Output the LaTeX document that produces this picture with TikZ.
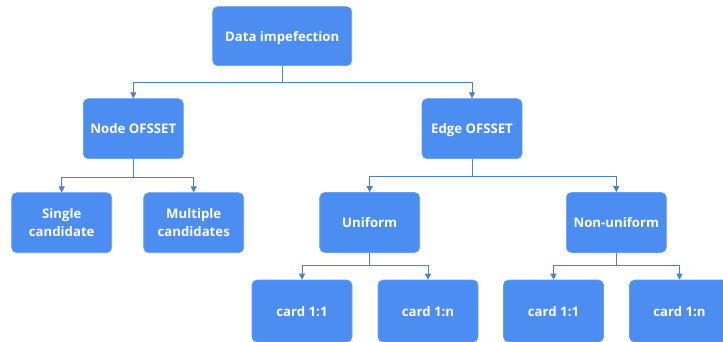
\documentclass[tikz,border=0pt]{standalone}
\usepackage{fontspec}
\setmainfont{Open Sans}
\usetikzlibrary{arrows.meta}
\definecolor{boxblue}{RGB}{75,141,241}
\definecolor{lineblue}{RGB}{76,128,200}
\begin{document}
\begin{tikzpicture}[x=1pt,y=-1pt,
  box/.style={draw=boxblue!85!white,line width=0.6pt,fill=boxblue,rounded corners=5pt,
    minimum width=100pt,minimum height=60pt,inner sep=0pt,text depth=0pt,
    text=white,font=\bfseries\fontsize{13.2}{18}\selectfont,align=center},
  conn/.style={draw=lineblue,line width=0.9pt,-{Triangle[length=6pt,width=6pt]}}]
\useasboundingbox (0,0) rectangle (723,342);
\clip (0,0) rectangle (723,342);
\fill[white] (0,0) rectangle (723,342);
\node[box,minimum width=139pt,minimum height=59pt] (root) at (282.2,36.2) {Data impefection};
\node[box] (nodeo) at (133.3,128.7) {Node OFSSET};
\node[box] (edgeo) at (472,128.7) {Edge OFSSET};
\node[box] (single) at (61.7,222.7) {Single\\candidate};
\node[box] (multi) at (193.7,222.7) {Multiple\\candidates};
\node[box] (unif) at (369.7,222.5) {Uniform};
\node[box] (nonu) at (616.3,222.5) {Non-uniform};
\node[box,minimum height=62pt] (c1) at (302,311) {card 1:1};
\node[box,minimum height=62pt] (c2) at (428,311) {card 1:n};
\node[box,minimum height=62pt] (c3) at (553.5,311) {card 1:1};
\node[box,minimum height=62pt] (c4) at (679.5,311) {card 1:n};
\draw[conn] (root.south) |- (133.3,82.3) -- (nodeo.north);
\draw[conn] (root.south) |- (472,82.3) -- (edgeo.north);
\draw[conn] (nodeo.south) |- (61.7,177) -- (single.north);
\draw[conn] (nodeo.south) |- (193.7,177) -- (multi.north);
\draw[conn] (edgeo.south) |- (369.7,176.5) -- (unif.north);
\draw[conn] (edgeo.south) |- (616.3,176.5) -- (nonu.north);
\draw[conn] (unif.south) |- (302,265.5) -- (c1.north);
\draw[conn] (unif.south) |- (428,265.5) -- (c2.north);
\draw[conn] (nonu.south) |- (553.5,265.5) -- (c3.north);
\draw[conn] (nonu.south) |- (679.5,265.5) -- (c4.north);
\end{tikzpicture}
\end{document}
